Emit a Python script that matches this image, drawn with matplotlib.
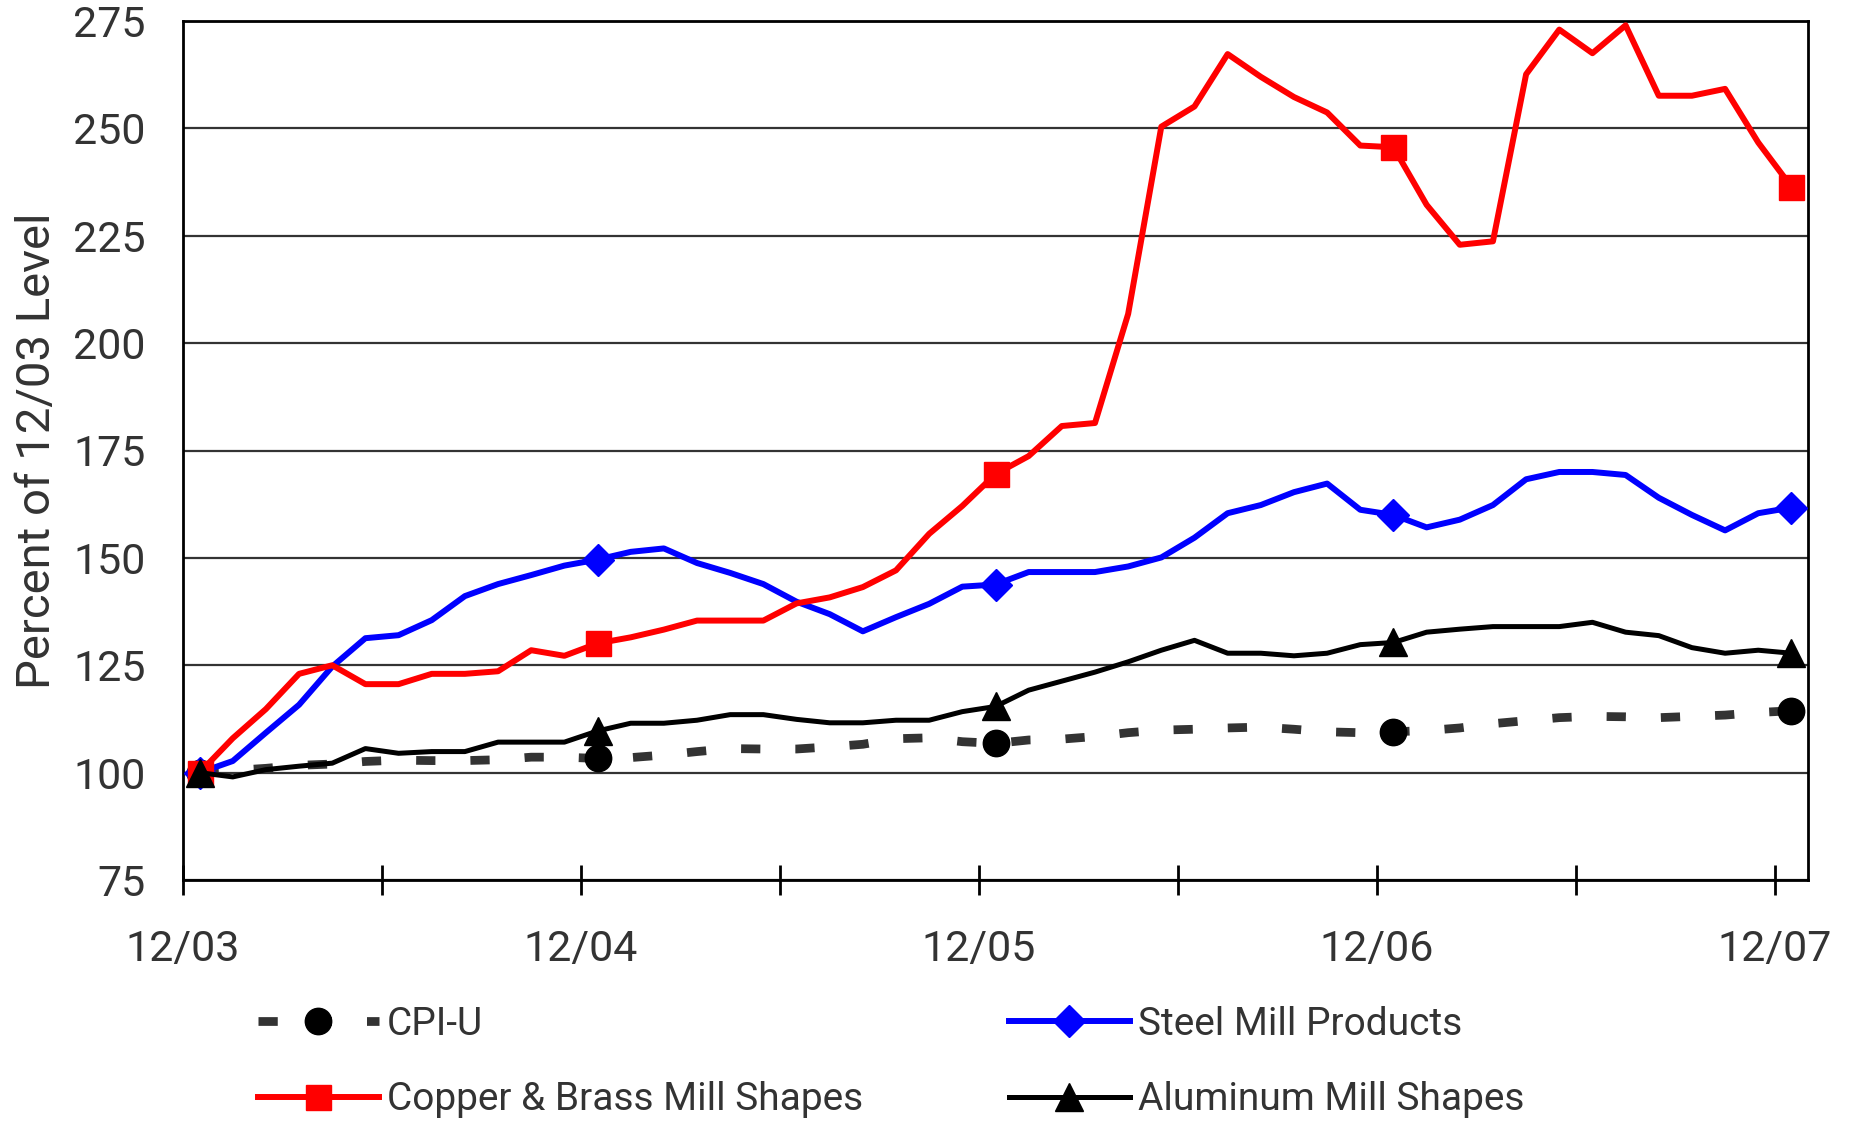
import matplotlib
matplotlib.use("Agg")
import matplotlib.pyplot as plt
import numpy as np

plt.rcParams['font.family'] = ['Roboto', 'DejaVu Sans']

# ---- data (monthly, 12/03 .. 12/07, index 12/03 = 100) ----
cpi_u = [100.0, 100.5, 101.0, 101.7, 102.0, 102.6, 102.9, 102.8, 102.8, 103.0, 103.6, 103.6,
         103.3, 103.5, 104.1, 104.9, 105.6, 105.5, 105.5, 106.0, 106.6, 107.9, 108.1, 107.2,
         106.8, 107.6, 107.8, 108.4, 109.3, 109.9, 110.1, 110.4, 110.6, 110.1, 109.5, 109.3,
         109.5, 109.8, 110.4, 111.4, 112.1, 112.8, 113.1, 113.0, 112.8, 113.1, 113.4, 114.0,
         114.4]
steel = [100.0, 102.7, 109.3, 115.8, 124.7, 131.3, 132.0, 135.5, 141.1, 143.9, 146.0, 148.2,
         149.6, 151.4, 152.2, 148.8, 146.5, 143.9, 139.8, 136.9, 132.9, 136.2, 139.3, 143.3,
         143.8, 146.7, 146.7, 146.7, 148.0, 150.1, 154.7, 160.4, 162.3, 165.3, 167.3, 161.2,
         160.0, 157.1, 158.9, 162.3, 168.3, 170.0, 170.0, 169.3, 164.0, 160.0, 156.4, 160.4,
         161.7]
copper = [100.0, 108.0, 114.8, 123.0, 125.0, 120.6, 120.6, 123.0, 123.0, 123.6, 128.5, 127.2,
          130.1, 131.5, 133.3, 135.4, 135.4, 135.4, 139.4, 140.8, 143.2, 147.1, 155.6, 162.1,
          169.5, 173.7, 180.7, 181.4, 206.8, 250.4, 255.1, 267.3, 262.0, 257.3, 253.7, 246.0,
          245.6, 232.2, 222.9, 223.7, 262.6, 273.0, 267.5, 274.0, 257.6, 257.6, 259.2, 246.7,
          236.4]
aluminum = [100.0, 99.0, 100.7, 101.5, 102.2, 105.6, 104.5, 104.9, 104.9, 107.1, 107.1, 107.1,
            109.7, 111.5, 111.5, 112.2, 113.5, 113.5, 112.4, 111.6, 111.6, 112.2, 112.2, 114.2,
            115.4, 119.2, 121.3, 123.4, 125.8, 128.5, 130.8, 127.8, 127.8, 127.2, 127.8, 129.8,
            130.3, 132.7, 133.4, 134.0, 134.0, 134.0, 135.0, 132.7, 131.9, 129.1, 127.8, 128.5,
            127.8]
x_labels = ["12/03", "12/04", "12/05", "12/06", "12/07"]
y_ticks = [75, 100, 125, 150, 175, 200, 225, 250, 275]

n = len(cpi_u)
x = np.arange(n) + 0.5  # category centres

fig = plt.figure(figsize=(18.53, 11.22), dpi=100)
ax = fig.add_axes([183/1853, 1-880/1122, 1625/1853, 859/1122])

text_color = '#333333'

l_cpi, = ax.plot(x, cpi_u, color='#333333', lw=6.3, dashes=(2.2, 4.0), dash_capstyle='butt',
                 marker='o', markevery=12, markersize=19, markerfacecolor='black',
                 markeredgecolor='black', zorder=3)
l_steel, = ax.plot(x, steel, color='#0000FF', lw=4.3, marker='D', markevery=12, markersize=16,
                   markerfacecolor='#0000FF', markeredgecolor='#0000FF', zorder=4)
l_copper, = ax.plot(x, copper, color='#FF0000', lw=4.3, marker='s', markevery=12, markersize=18,
                    markerfacecolor='#FF0000', markeredgecolor='#FF0000', zorder=5)
l_alu, = ax.plot(x, aluminum, color='black', lw=3.6, marker='^', markevery=12, markersize=20,
                 markerfacecolor='black', markeredgecolor='black', zorder=6)

ax.set_xlim(0, n)
ax.set_ylim(75, 275)
ax.set_yticks(y_ticks)
ax.set_yticklabels([str(v) for v in y_ticks])
ax.yaxis.grid(True, color='#333333', lw=1.6)
ax.set_axisbelow(True)

xt = np.arange(0, n, 6)
ax.set_xticks(xt)
ax.set_xticklabels([x_labels[i // 12] if i % 12 == 0 else '' for i in xt])

ax.tick_params(axis='y', length=0, pad=27, labelsize=31, labelcolor=text_color)
ax.tick_params(axis='x', direction='inout', length=22, width=2, pad=24, labelsize=31,
               labelcolor=text_color, color='black')

for s in ax.spines.values():
    s.set_color('black')
    s.set_linewidth(2.0)

ax.set_ylabel('Percent of 12/03 Level', fontsize=34, color=text_color, labelpad=10)

handles = [l_cpi, l_copper, l_steel, l_alu]
labels = ['CPI-U', 'Copper & Brass Mill Shapes', 'Steel Mill Products', 'Aluminum Mill Shapes']
leg = fig.legend(handles, labels, ncol=2, loc='center left',
                 bbox_to_anchor=(258/1853, 1-1062/1122), frameon=False,
                 fontsize=28, handlelength=3.1, handletextpad=0.22, columnspacing=3.75,
                 labelspacing=1.0, borderpad=0, borderaxespad=0, markerscale=1.0)
for t in leg.get_texts():
    t.set_color(text_color)

fig.savefig('out.png', dpi=100)
